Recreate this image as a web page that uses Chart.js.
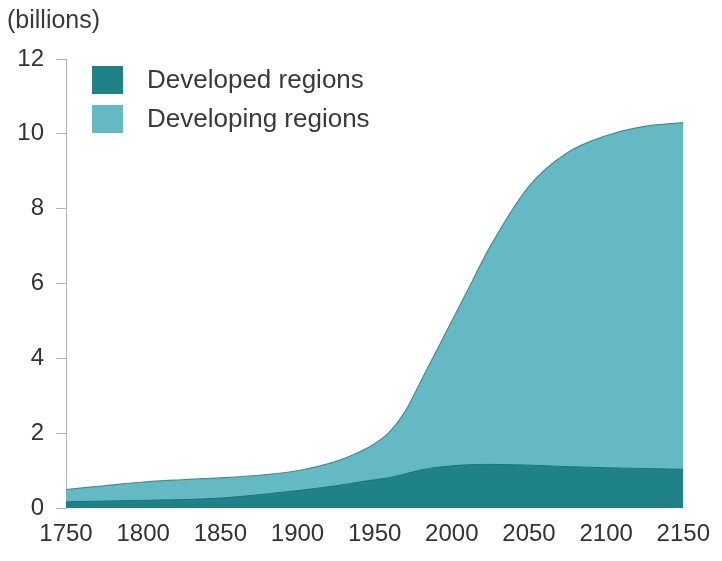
<!DOCTYPE html>
<html>
<head>
  <title>World population by region</title>
  <style>
    body {
      margin: 0;
      padding: 0;
      background-color: white;
      font-family: "Liberation Sans", Arial, sans-serif;
      color: #333;
    }

    .wrap {
      position: relative;
      width: 722px;
      height: 561px;
    }

    .unit {
      position: absolute;
      left: 7px;
      top: 5px;
      font-size: 25px;
      color: #3a3a3a;
    }

    .legend {
      position: absolute;
      left: 92px;
      top: 60px;
      font-size: 26px;
      color: #3a3a3a;
    }

    .legend .row {
      display: flex;
      align-items: center;
      height: 39px;
    }

    .legend .box {
      width: 31px;
      height: 28px;
      margin-right: 24px;
    }
  </style>
</head>
<body>
  <div class="wrap">
    <canvas id="chart"></canvas>
    <div class="unit">(billions)</div>
    <div class="legend" id="legend"></div>
  </div>

  <script src="https://cdn.jsdelivr.net/npm/chart.js"></script>
  <script>
    // values, billions of people
    const years = [1750, 1775, 1800, 1825, 1850, 1875, 1900, 1925, 1940, 1950, 1960, 1970,
                   1980, 1990, 2000, 2010, 2025, 2050, 2075, 2100, 2125, 2150];
    const developed = [0.17, 0.19, 0.21, 0.23, 0.27, 0.36, 0.47, 0.60, 0.70, 0.76, 0.82, 0.92,
                       1.02, 1.09, 1.13, 1.16, 1.17, 1.15, 1.11, 1.08, 1.06, 1.04];
    const developing = [0.33, 0.41, 0.49, 0.53, 0.54, 0.52, 0.53, 0.65, 0.80, 0.96, 1.23, 1.68,
                        2.38, 3.11, 3.87, 4.64, 5.83, 7.45, 8.39, 8.87, 9.14, 9.26];
    const seriesNames = ["Developed regions", "Developing regions"];
    const yTicks = [0, 2, 4, 6, 8, 10, 12];
    const xTicks = [1750, 1800, 1850, 1900, 1950, 2000, 2050, 2100, 2150];

    const darkTeal = "#1f8289";
    const lightTeal = "#65b9c4";

    const legend = document.getElementById("legend");
    [darkTeal, lightTeal].forEach((c, i) => {
      const row = document.createElement("div");
      row.className = "row";
      row.innerHTML = `<span class="box" style="background:${c}"></span><span>${seriesNames[i]}</span>`;
      legend.appendChild(row);
    });

    const toPoints = vals => years.map((y, i) => ({ x: y, y: vals[i] }));

    const ctx = document.getElementById("chart").getContext("2d");
    new Chart(ctx, {
      type: "line",
      data: {
        datasets: [
          {
            label: seriesNames[0],
            data: toPoints(developed),
            backgroundColor: darkTeal,
            borderColor: "#1b7278",
            borderWidth: 1,
            fill: "origin",
          },
          {
            label: seriesNames[1],
            data: toPoints(developing),
            backgroundColor: lightTeal,
            borderColor: "#4d8a90",
            borderWidth: 1.2,
            fill: "-1",
          },
        ],
      },
      options: {
        responsive: true,
        maintainAspectRatio: false,
        animation: false,
        elements: {
          point: { radius: 0 },
          line: { cubicInterpolationMode: "monotone" },
        },
        layout: { padding: { top: 59, right: 38, left: 0, bottom: 0 } },
        plugins: {
          legend: { display: false },
          tooltip: { enabled: false },
        },
        scales: {
          x: {
            type: "linear",
            min: xTicks[0],
            max: xTicks[xTicks.length - 1],
            afterBuildTicks: s => { s.ticks = xTicks.map(v => ({ value: v })); },
            ticks: {
              callback: v => String(v),
              font: { family: "'Liberation Sans', Arial, sans-serif", size: 24 },
              color: "#333",
              padding: 12,
              maxRotation: 0,
              autoSkip: false,
            },
            grid: { display: false, drawTicks: false },
            border: { display: false },
          },
          y: {
            stacked: true,
            min: yTicks[0],
            max: yTicks[yTicks.length - 1],
            afterBuildTicks: s => { s.ticks = yTicks.map(v => ({ value: v })); },
            afterFit: s => { s.width = 66; },
            ticks: {
              font: { family: "'Liberation Sans', Arial, sans-serif", size: 24 },
              color: "#333",
              padding: 12,
            },
            grid: {
              drawOnChartArea: false,
              tickLength: 10,
              color: "#b5b5b5",
            },
            border: { display: true, color: "#b5b5b5" },
          },
        },
      },
    });
  </script>
</body>
</html>
